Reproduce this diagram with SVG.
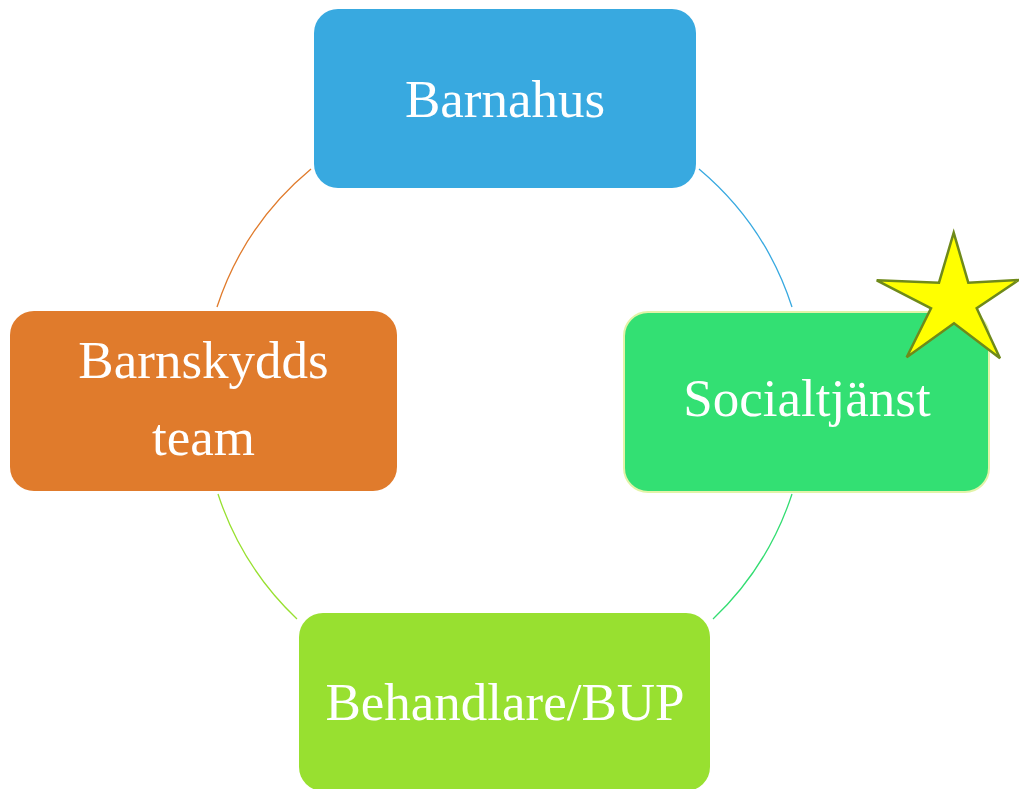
<svg xmlns="http://www.w3.org/2000/svg" width="1019" height="789" viewBox="0 0 1019 789">
<style>
.lbl{font-family:"Liberation Serif","Times New Roman",serif;font-size:53px;fill:#ffffff;text-anchor:middle}
.arc{fill:none;stroke-width:1.3}
</style>
<rect width="1019" height="789" fill="#ffffff"/>
<g id="connectors">
<path class="arc" stroke="#38a9e0" d="M699,169 A302,302 0 0 1 792,307"/>
<path class="arc" stroke="#33dd72" d="M792,494 A302,302 0 0 1 713,619"/>
<path class="arc" stroke="#98e030" d="M297,619 A302,302 0 0 1 218,494"/>
<path class="arc" stroke="#e07b2c" d="M217,307 A302,302 0 0 1 311,169"/>
</g>
<g id="barnahus">
<rect x="314" y="9" width="382" height="179" rx="24" fill="#38a9e0"/>
<text class="lbl" x="505" y="117">Barnahus</text>
</g>
<g id="socialtjanst">
<rect x="624" y="312" width="365" height="180" rx="24" fill="#33e073" stroke="#e2f3a8" stroke-width="2"/>
<text class="lbl" x="807" y="416">Socialtjänst</text>
</g>
<g id="behandlare">
<rect x="299" y="613" width="411" height="178" rx="24" fill="#98e030"/>
<text class="lbl" x="505" y="720">Behandlare/BUP</text>
</g>
<g id="barnskydds">
<rect x="10" y="311" width="387" height="180" rx="24" fill="#e07b2c"/>
<text class="lbl" x="203.5" y="378">Barnskydds</text>
<text class="lbl" x="203.5" y="455">team</text>
</g>
<g id="star">
<polygon points="953.7,232.7 968.3,282.7 1018.7,280 976.7,308.3 1000,358.3 954,323.3 906.7,357.3 931,308.3 876.7,280.3 939,282.7" fill="#ffff00" stroke="#6f8a1a" stroke-width="2.5" stroke-linejoin="miter"/>
</g>
</svg>
